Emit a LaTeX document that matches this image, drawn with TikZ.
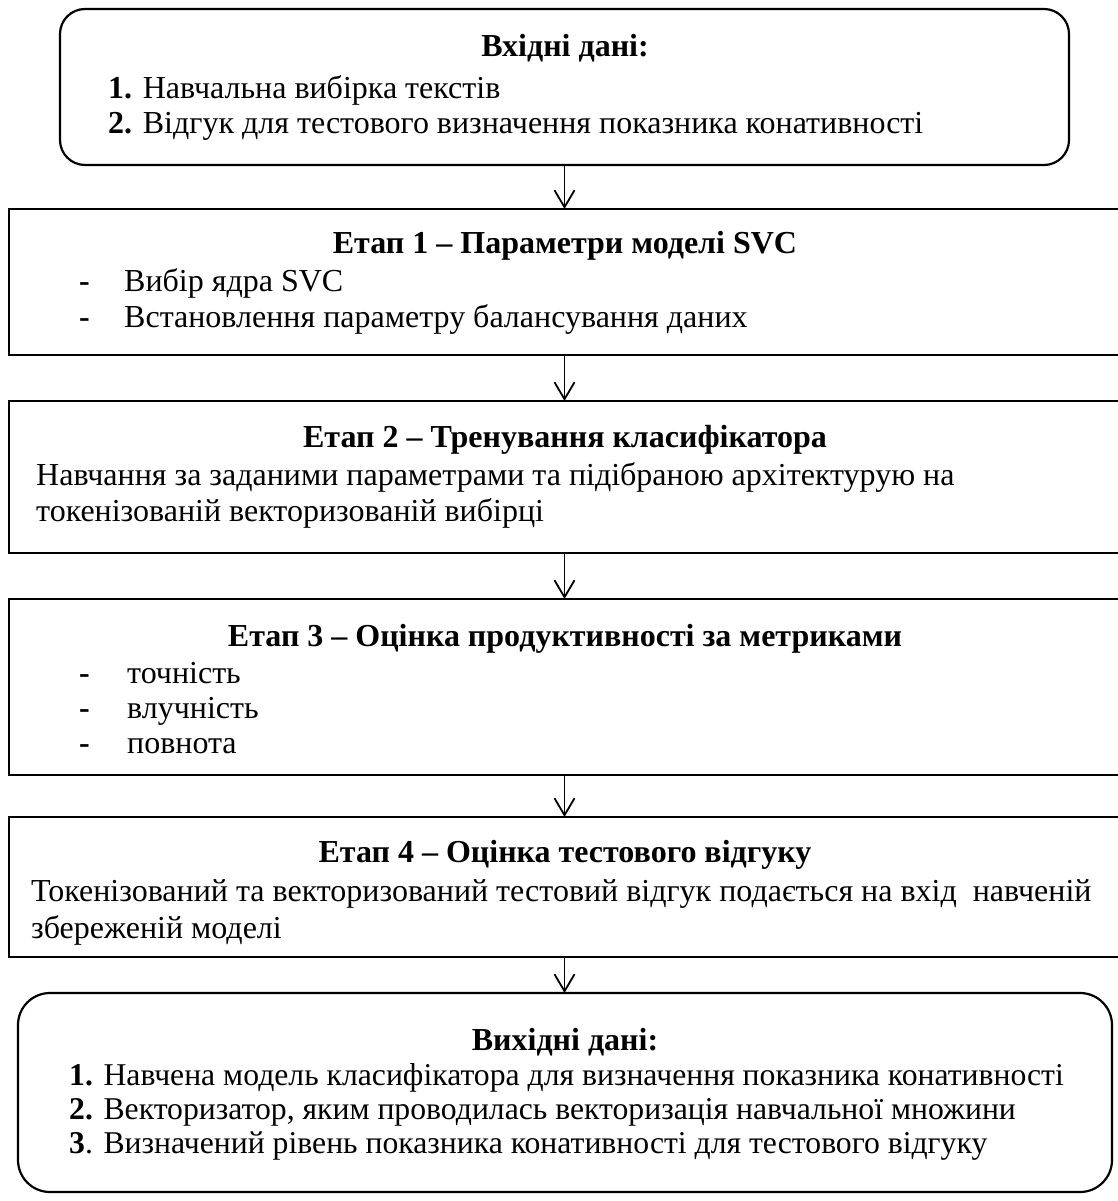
\documentclass[tikz,border=0pt]{standalone}
\usepackage{fontspec}
\setmainfont{Liberation Serif}
\usetikzlibrary{arrows.meta}

\begin{document}
\begin{tikzpicture}[x=1pt,y=-1pt,
  frame/.style={draw, line width=2.2pt, inner sep=0pt, outer sep=0pt},
  roundbox/.style={frame, rounded corners=#1},
  txt/.style={anchor=base west, inner sep=0pt, font=\fontsize{32}{36}\selectfont},
  outtxt/.style={anchor=base west, inner sep=0pt, font=\fontsize{31.7}{36}\selectfont},
  ttl/.style={anchor=base, inner sep=0pt, font=\fontsize{32}{36}\selectfont\bfseries},
  dashmark/.style={anchor=base west, inner sep=0pt, font=\fontsize{32}{36}\selectfont\bfseries},
  flow/.style={line width=1.8pt, -{Straight Barb[length=17pt,width=20pt,line width=1.8pt]}}]

\useasboundingbox (0,0) rectangle (1117,1201);

% frames
\node (b1) [roundbox=25pt, minimum width=1009pt, minimum height=156pt] at (564.5,87) {};
\node (b2) [frame, minimum width=1114pt, minimum height=146pt] at (566,282) {};
\node (b3) [frame, minimum width=1114pt, minimum height=152pt] at (566,477) {};
\node (b4) [frame, minimum width=1114pt, minimum height=176pt] at (566,687) {};
\node (b5) [frame, minimum width=1114pt, minimum height=140pt] at (566,887) {};
\node (b6) [roundbox=32pt, minimum width=1094pt, minimum height=199pt] at (565,1092.5) {};

% input data
\node (h1) [ttl] at (565,57) {Вхідні дані:};
\node (l11) [txt] at (108,99) {\textbf{1.} Навчальна вибірка текстів};
\node (l12) [txt] at (108,134) {\textbf{2.} Відгук для тестового визначення показника конативності};

% stage 1
\node (h2) [ttl] at (565,253) {Етап 1 – Параметри моделі SVC};
\node (d21) [dashmark] at (79,291) {-};
\node (l21) [txt] at (124,291) {Вибір ядра SVC};
\node (d22) [dashmark] at (79,327) {-};
\node (l22) [txt] at (124,327) {Встановлення параметру балансування даних};

% stage 2
\node (h3) [ttl] at (565,447) {Етап 2 – Тренування класифікатора};
\node (l31) [txt] at (36,485) {Навчання за заданими параметрами та підібраною архітектурую на};
\node (l32) [txt] at (36,521) {токенізованій векторизованій вибірці};

% stage 3
\node (h4) [ttl] at (565,646) {Етап 3 – Оцінка продуктивності за метриками};
\node (d41) [dashmark] at (79,683) {-};
\node (l41) [txt] at (127,683) {точність};
\node (d42) [dashmark] at (79,718) {-};
\node (l42) [txt] at (127,718) {влучність};
\node (d43) [dashmark] at (79,753) {-};
\node (l43) [txt] at (127,753) {повнота};

% stage 4
\node (h5) [ttl] at (565,862) {Етап 4 – Оцінка тестового відгуку};
\node (l51) [txt] at (31,901) {Токенізований та векторизований тестовий відгук подається на вхід\ \ навченій};
\node (l52) [txt] at (31,938) {збереженій моделі};

% output data
\node (h6) [ttl] at (565,1050) {Вихідні дані:};
\node (l61) [outtxt] at (69,1085) {\textbf{1.} Навчена модель класифікатора для визначення показника конативності};
\node (l62) [outtxt] at (69,1119) {\textbf{2.} Векторизатор, яким проводилась векторизація навчальної множини};
\node (l63) [outtxt] at (69,1153) {\textbf{3}. Визначений рівень показника конативності для тестового відгуку};

% connectors
\draw[flow] (b1.south) -- (b1.south |- b2.north);
\draw[flow] (b2.south -| b1.south) -- (b1.south |- b3.north);
\draw[flow] (b3.south -| b1.south) -- (b1.south |- b4.north);
\draw[flow] (b4.south -| b1.south) -- (b1.south |- b5.north);
\draw[flow] (b5.south -| b1.south) -- (b1.south |- b6.north);
\end{tikzpicture}
\end{document}
